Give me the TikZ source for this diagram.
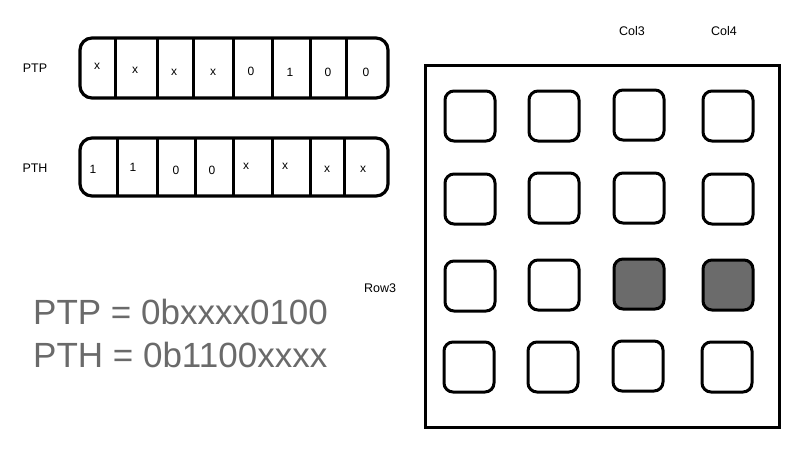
\documentclass[tikz,border=0pt]{standalone}
\usepackage{fontspec}
\setmainfont{Liberation Sans}
\definecolor{biggray}{HTML}{6A6A6A}
\definecolor{keyfill}{HTML}{6B6B6B}
\begin{document}
\begin{tikzpicture}[x=1pt,y=-1pt,
  reg/.style={draw, line width=3.2pt, rounded corners=12pt},
  divline/.style={line width=3pt},
  bit/.style={font=\fontsize{12}{14}\selectfont, inner sep=0pt},
  lab/.style={font=\fontsize{12.5}{15}\selectfont, inner sep=0pt},
  big/.style={font=\fontsize{35}{40}\selectfont, text=biggray, anchor=base west, inner sep=0pt},
  keybox/.style={draw, line width=3pt, rounded corners=9pt, minimum size=50pt, inner sep=0pt},
  keyon/.style={keybox, fill=keyfill},
  frame/.style={draw, line width=3pt}]
\useasboundingbox (0,0) rectangle (800,450);
% labels
\node[lab] (lptp) at (35,68) {PTP};
\node[lab] (lpth) at (35,168) {PTH};
\node[lab] (col3) at (632,31) {Col3};
\node[lab] (col4) at (724,31) {Col4};
\node[lab] (row3) at (380,288) {Row3};
% PTP register
\draw[reg] (80,38) rectangle (388,98);
\foreach \x in {115,157,193,233,272,310,346} \draw[divline] (\x,38) -- (\x,98);
\node[bit] (p7) at (97,66) {x};
\node[bit] (p6) at (135,70) {x};
\node[bit] (p5) at (174,72) {x};
\node[bit] (p4) at (213,72) {x};
\node[bit] (p3) at (251,71) {0};
\node[bit] (p2) at (290,72) {1};
\node[bit] (p1) at (328,72) {0};
\node[bit] (p0) at (366,72) {0};
% PTH register
\draw[reg] (80,138) rectangle (388,196);
\foreach \x in {117,157,195,233,272,310,344} \draw[divline] (\x,138) -- (\x,196);
\node[bit] (h7) at (93,169) {1};
\node[bit] (h6) at (133,167) {1};
\node[bit] (h5) at (176,170) {0};
\node[bit] (h4) at (212,170) {0};
\node[bit] (h3) at (246,166) {x};
\node[bit] (h2) at (285,166) {x};
\node[bit] (h1) at (327,169) {x};
\node[bit] (h0) at (363,169) {x};
% big text
\node[big] (eqptp) at (33,324) {PTP = 0bxxxx0100};
\node[big] (eqpth) at (33,367) {PTH = 0b1100xxxx};
% grid frame
\draw[frame] (425,65) rectangle (779,427);
% keys
\node[keybox] (k11) at (470,116) {};
\node[keybox] (k12) at (554,116) {};
\node[keybox] (k13) at (639,115) {};
\node[keybox] (k14) at (728,116) {};
\node[keybox] (k21) at (470,199) {};
\node[keybox] (k22) at (554,198) {};
\node[keybox] (k23) at (639,198) {};
\node[keybox] (k24) at (728,199) {};
\node[keybox] (k31) at (470,286) {};
\node[keybox] (k32) at (554,285) {};
\node[keyon]  (k33) at (639,284) {};
\node[keyon]  (k34) at (728,285) {};
\node[keybox] (k41) at (469,367) {};
\node[keybox] (k42) at (553,367) {};
\node[keybox] (k43) at (638,366) {};
\node[keybox] (k44) at (727,367) {};
\end{tikzpicture}
\end{document}
